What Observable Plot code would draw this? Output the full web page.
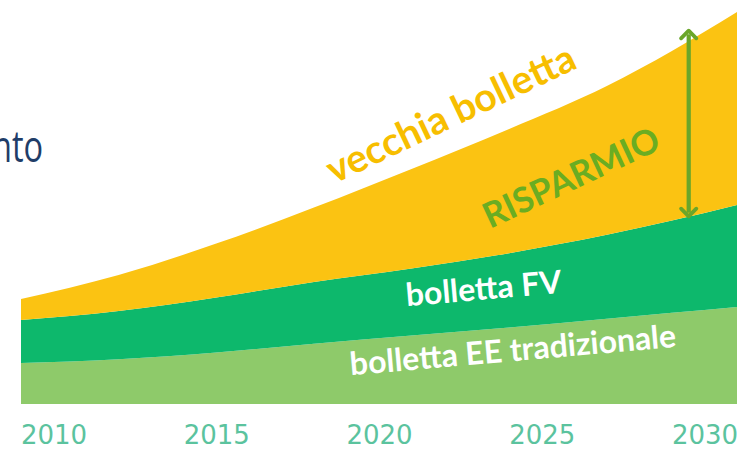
<!DOCTYPE html>
<html>
<head>
<meta charset="utf-8">
<script src="https://cdn.jsdelivr.net/npm/d3@7"></script>
<script src="https://cdn.jsdelivr.net/npm/@observablehq/plot@0.6"></script>
<style>
  body { margin: 0; background: #fff; }
  #wrap { position: relative; width: 748px; height: 450px; overflow: hidden; background: #fff; }
  #wrap svg { position: absolute; left: 0; top: 0; }
  #nto { position: absolute; right: 705px; top: 123px; font-family: "Open Sans"; font-size: 44px; line-height: 44px; color: #1F3D68; white-space: nowrap; transform: scaleX(0.74); transform-origin: right center; }
</style>
</head>
<body>
<div id="wrap"><div id="nto">nto</div></div>
<script>
// ---- data ----
const years        = [2009, 2012, 2015, 2018, 2021, 2024, 2027, 2029, 2031];
const bollettaEE   = [10.25, 11.2, 12.9, 15.05, 17.1, 19.1, 21.3, 22.8, 24.25];
const bollettaFV   = [10.75, 12.05, 13.75, 15.45, 16.8, 18.6, 21.0, 23.05, 25.5];
const risparmio    = [5.25, 9.0, 13.45, 18.6, 24.85, 31.05, 37.2, 42.4, 48.25];
const tickYears    = [2010, 2015, 2020, 2025, 2030];
const layerNames   = ["bolletta EE tradizionale", "bolletta FV", "risparmio"];
const layerColors  = ["#8ECA6A", "#0DB86C", "#FBC312"];

// annotation labels
const labelText  = ["vecchia bolletta", "RISPARMIO", "bolletta FV", "bolletta EE tradizionale"];
const labelYear  = [2022.2, 2025.9, 2023.2, 2024.1];
const labelValue = [72.5, 56.5, 28.8, 13.4];
const labelAngle = [-25.5, -25, -5, -5];
const labelSize  = [39, 35, 32, 32];
const labelColor = ["#F7BE00", "#6AAD22", "#FFFFFF", "#FFFFFF"];

// savings arrow
const arrowYear = [2029.5];
const arrowLow  = [48];
const arrowHigh = [92.5];

// ---- build table ----
const seriesValues = [bollettaEE, bollettaFV, risparmio];
const rows = [];
layerNames.forEach((name, k) => {
  years.forEach((yr, i) => rows.push({ year: yr, layer: name, value: seriesValues[k][i] }));
});

const textMarks = labelText.map((t, i) => Plot.text([t], {
  x: [labelYear[i]],
  y: [labelValue[i]],
  text: d => d,
  rotate: labelAngle[i],
  fontSize: labelSize[i],
  fontWeight: "bold",
  fontFamily: "Lato",
  fill: labelColor[i],
  textAnchor: "middle",
  lineAnchor: "middle"
}));

const arrowRows = arrowYear.map((x, i) => ({ x, lo: arrowLow[i], hi: arrowHigh[i] }));

const chart = Plot.plot({
  width: 748,
  height: 450,
  marginLeft: 21,
  marginRight: 11,
  marginTop: 4,
  marginBottom: 46,
  style: { fontFamily: "DejaVu Sans", background: "transparent" },
  x: { domain: [2009, 2031] },
  y: { domain: [0, 100], axis: null },
  color: { domain: layerNames, range: layerColors },
  marks: [
    Plot.areaY(rows, { x: "year", y: "value", fill: "layer", curve: "monotone-x" }),
    ...textMarks,
    Plot.link(arrowRows, { x1: "x", x2: "x", y1: "lo", y2: "hi", stroke: "#6AA62A", strokeWidth: 3.8, markerEnd: "arrow" }),
    Plot.link(arrowRows, { x1: "x", x2: "x", y1: "hi", y2: "lo", stroke: "#6AA62A", strokeWidth: 3.8, markerEnd: "arrow" }),
    Plot.axisX(tickYears, {
      tickSize: 0,
      tickPadding: 21,
      fontSize: 26,
      color: "#5BC39E",
      tickFormat: d => String(d),
      label: null
    })
  ]
});

const wrap = document.getElementById("wrap");
wrap.insertBefore(chart, wrap.firstChild);
</script>
</body>
</html>
